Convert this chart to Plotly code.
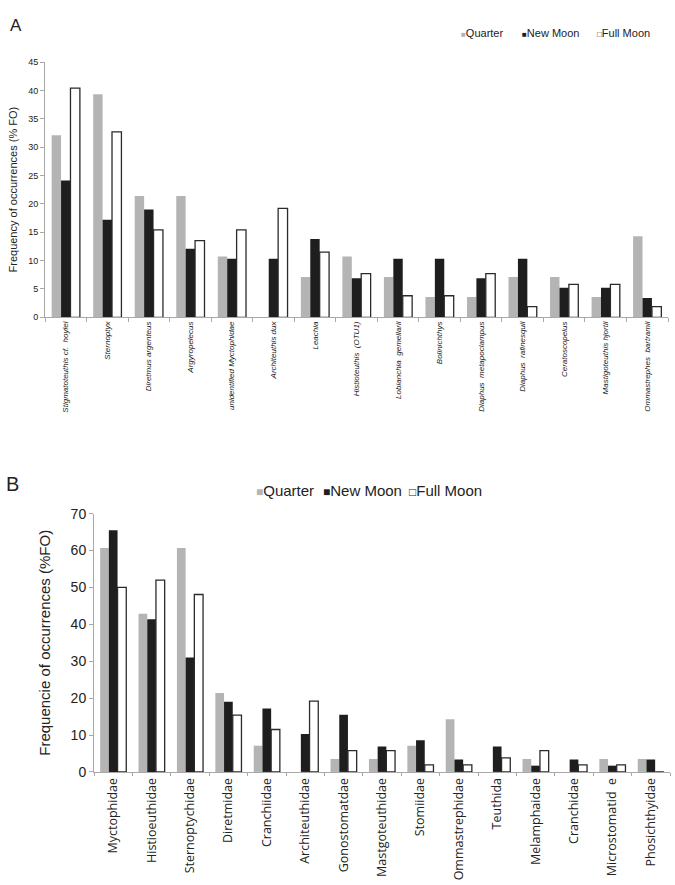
import plotly.graph_objects as go

# ---- Panel A data ----
species = ["Stigmatoteuthis cf.  hoylei", "Sternoptyx", "Diretmus argenteus", "Argyropelecus",
           "unidentified Myctophidae", "Architeuthis dux", "Leachia", "Histioteuthis  (OTU1)",
           "Lobianchia  gemellarii", "Bolinichthys", "Diaphus  metapoclampus", "Diaphus  rafinesquii",
           "Ceratoscopelus", "Mastigoteuthis hjortii", "Ommastrephes  bartramii"]
a_quarter = [32.1, 39.3, 21.4, 21.4, 10.7, 0, 7.1, 10.7, 7.1, 3.6, 3.6, 7.1, 7.1, 3.6, 14.3]
a_new = [24.1, 17.2, 19.0, 12.1, 10.3, 10.3, 13.8, 6.9, 10.3, 10.3, 6.9, 10.3, 5.2, 5.2, 3.4]
a_full = [40.4, 32.7, 15.4, 13.5, 15.4, 19.2, 11.5, 7.7, 3.8, 3.8, 7.7, 1.9, 5.8, 5.8, 1.9]
a_ticks = [0, 5, 10, 15, 20, 25, 30, 35, 40, 45]

# ---- Panel B data ----
families = ["Myctophidae", "Histioeuthidae", "Sternoptychidae", "Diretmidae", "Cranchiidae",
            "Architeuthidae", "Gonostomatdae", "Mastgoteuthidae", "Stomiidae", "Ommastrephidae",
            "Teuthida", "Melamphaidae", "Cranchidae", "Microstomatid  e", "Phosichthyidae"]
b_quarter = [60.7, 42.9, 60.7, 21.4, 7.1, 0, 3.5, 3.5, 7.1, 14.3, 0, 3.5, 0, 3.5, 3.5]
b_new = [65.5, 41.4, 31.0, 19.0, 17.2, 10.3, 15.5, 6.9, 8.6, 3.4, 6.9, 1.7, 3.4, 1.7, 3.4]
b_full = [50.0, 52.0, 48.1, 15.4, 11.5, 19.2, 5.8, 5.8, 1.9, 1.9, 3.8, 5.8, 1.9, 1.9, 0]
b_ticks = [0, 10, 20, 30, 40, 50, 60, 70]

series_names = ["Quarter", "New Moon", "Full Moon"]
fills = ["#b4b4b4", "#1e1e1e", "#ffffff"]
lines = ["#b4b4b4", "#1e1e1e", "#2a2a2a"]
lwidth = [0, 0, 1.3]

W, H = 675, 885
fig = go.Figure()

for i, vals in enumerate([a_quarter, a_new, a_full]):
    fig.add_trace(go.Bar(x=species, y=vals, name=series_names[i], xaxis="x", yaxis="y",
                         marker=dict(color=fills[i], line=dict(color=lines[i], width=lwidth[i])),
                         showlegend=False))
for i, vals in enumerate([b_quarter, b_new, b_full]):
    fig.add_trace(go.Bar(x=families, y=vals, name=series_names[i], xaxis="x2", yaxis="y2",
                         marker=dict(color=fills[i], line=dict(color=lines[i], width=lwidth[i])),
                         showlegend=False))


def px_x(p):
    return p / W


def px_y(p):
    return 1 - p / H


# legend built as text keys (filled / hollow squares)
def key(i, gsize):
    glyph = "□" if i == 2 else "■"
    col = "#2a2a2a" if i == 2 else fills[i]
    return '<span style="color:%s;font-size:%gpx">%s</span>%s' % (col, gsize, glyph, series_names[i])


annotations = [
    dict(text="A", x=px_x(8), y=px_y(6), xref="paper", yref="paper", xanchor="left", yanchor="top",
         showarrow=False, font=dict(size=17, color="#222")),
    dict(text="B", x=px_x(4), y=px_y(472), xref="paper", yref="paper", xanchor="left", yanchor="top",
         showarrow=False, font=dict(size=20, color="#222")),
]
for i, xl in enumerate([459, 520, 595]):
    annotations.append(dict(text=key(i, 8), x=px_x(xl), y=px_y(25), xref="paper", yref="paper",
                            xanchor="left", yanchor="middle", showarrow=False,
                            font=dict(size=11, color="#222")))
for i, xl in enumerate([254, 321, 407]):
    annotations.append(dict(text=key(i, 12), x=px_x(xl), y=px_y(491), xref="paper", yref="paper",
                            xanchor="left", yanchor="middle", showarrow=False,
                            font=dict(size=15, color="#222")))

axis_col = "#a8a8a8"
fig.update_layout(
    width=W, height=H,
    margin=dict(l=0, r=0, t=0, b=0),
    paper_bgcolor="white", plot_bgcolor="white",
    barmode="group", bargap=0.32, bargroupgap=0,
    font=dict(family="Liberation Sans, Arial, sans-serif", color="#222"),
    xaxis=dict(domain=[px_x(45), px_x(668)], anchor="y", type="category",
               showline=True, linecolor=axis_col, linewidth=1,
               ticks="outside", tickson="boundaries", ticklen=4, tickcolor=axis_col,
               tickangle=-90, tickfont=dict(size=8, style="italic", color="#222"),
               showgrid=False),
    yaxis=dict(domain=[px_y(315), px_y(55)], anchor="x", range=[0, 45], tickvals=a_ticks,
               showline=True, linecolor=axis_col, linewidth=1,
               ticks="outside", ticklen=4, tickcolor=axis_col,
               tickfont=dict(size=9, color="#222"), showgrid=False, zeroline=False,
               title=dict(text="Frequency of occurrences (% FO)", font=dict(size=11, color="#222"),
                          standoff=8)),
    xaxis2=dict(domain=[px_x(94), px_x(670)], anchor="y2", type="category",
                showline=True, linecolor=axis_col, linewidth=1,
                ticks="outside", tickson="boundaries", ticklen=3, tickcolor=axis_col,
                tickangle=-90, tickfont=dict(size=12.5, family="Open Sans, Noto Sans, sans-serif", color="#222"),
                showgrid=False),
    yaxis2=dict(domain=[px_y(778), px_y(515)], anchor="x2", range=[0, 70], tickvals=b_ticks,
                showline=True, linecolor=axis_col, linewidth=1,
                ticks="outside", ticklen=4, tickcolor=axis_col,
                tickfont=dict(size=14, color="#222"), showgrid=False, zeroline=False,
                title=dict(text="Frequencie of occurrences (%FO)", font=dict(size=15, color="#222"),
                           standoff=16)),
    annotations=annotations,
)

fig.write_html("out.html", config={"displayModeBar": False},
               post_script="document.body.style.margin='0';")
